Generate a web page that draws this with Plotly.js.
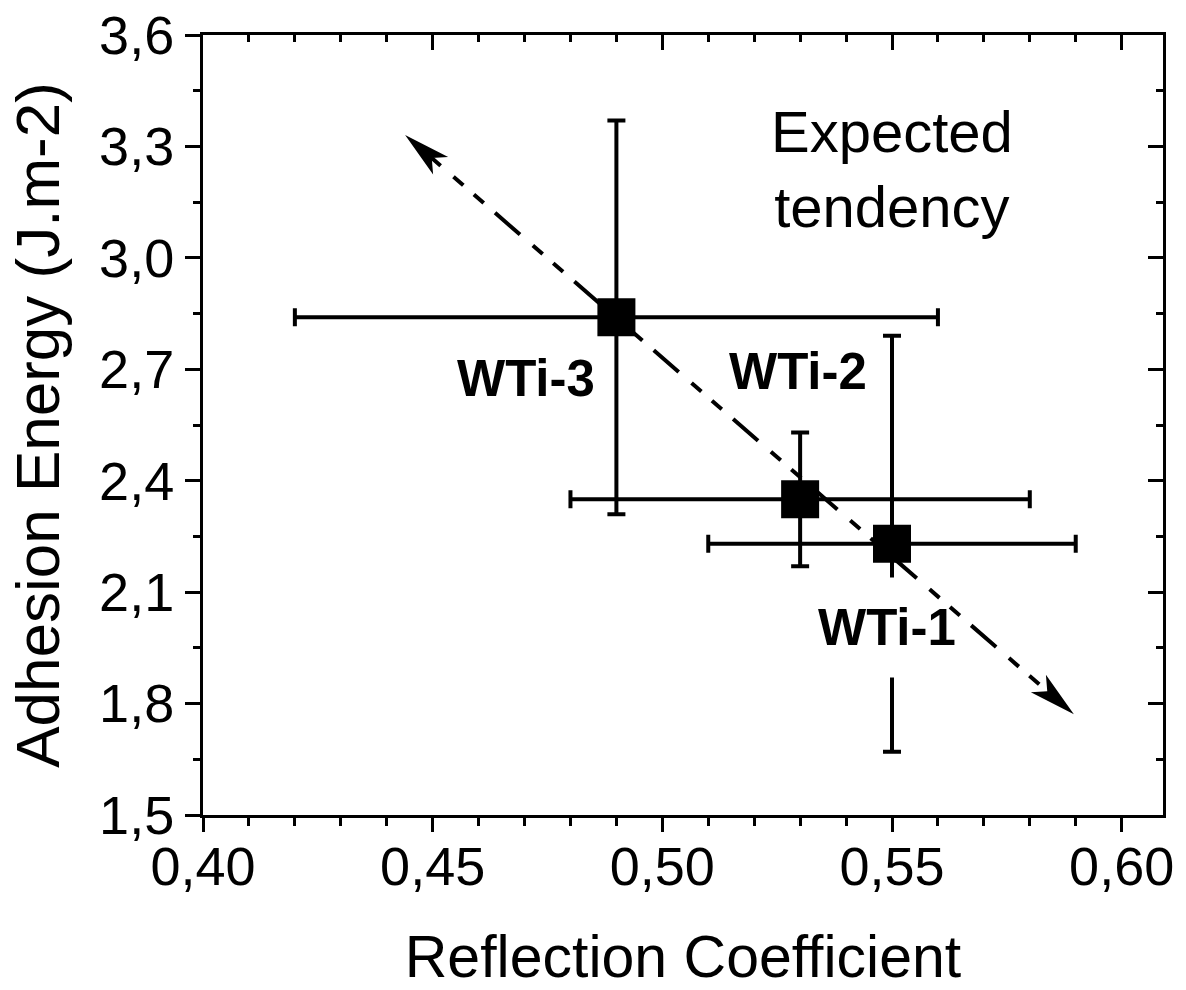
<!DOCTYPE html>
<html>
<head>
<meta charset="utf-8">
<script src="https://cdn.plot.ly/plotly-3.0.1.min.js"></script>
<style>
  html, body { margin: 0; padding: 0; background: #fff; }
  #chart { width: 1186px; height: 990px; }
</style>
</head>
<body>
<div id="chart"></div>
<script>
// ---- data ----
const sampleNames = ['WTi-1', 'WTi-2', 'WTi-3'];
const reflection = [0.55, 0.53, 0.49];
const reflectionErr = [0.04, 0.05, 0.07];
const adhesion = [2.23, 2.35, 2.84];
const adhesionErr = [0.56, 0.18, 0.53];
const labelX = [0.549, 0.5296, 0.4703];
const labelY = [2.005, 2.695, 2.674];
const trendX = [0.444, 0.5896];
const trendY = [3.331, 1.771];
const trendText = 'Expected<br>tendency';
const trendTextX = 0.550;
const trendTextY = 3.24;

// ---- layout geometry ----
const W = 1186, H = 990;
const M = {l: 203, r: 23, t: 35, b: 175};
const xRange = [0.40, 0.609];
const yRange = [1.5, 3.6];
const FONT = 'Liberation Sans, Arial, sans-serif';

const plotW = W - M.l - M.r, plotH = H - M.t - M.b;
const sx = plotW / (xRange[1] - xRange[0]);
const sy = plotH / (yRange[1] - yRange[0]);

// direction of trend arrow in pixel space (y up)
const dxp = (trendX[1] - trendX[0]) * sx;
const dyp = (trendY[1] - trendY[0]) * sy;
const len = Math.hypot(dxp, dyp);
const ux = dxp / len, uy = dyp / len;

const headL = 47, headHalf = 11.5, notch = 0.75;
function headPath(dx, dy) {
  const nx = -dy, ny = dx;
  const b1x = -headL * dx + headHalf * nx, b1y = -headL * dy + headHalf * ny;
  const b2x = -headL * dx - headHalf * nx, b2y = -headL * dy - headHalf * ny;
  const cx = -notch * headL * dx, cy = -notch * headL * dy;
  return `M0,0 L${b1x.toFixed(2)},${b1y.toFixed(2)} L${cx.toFixed(2)},${cy.toFixed(2)} L${b2x.toFixed(2)},${b2y.toFixed(2)} Z`;
}
const shrink = 14;
const lx0 = trendX[0] + shrink * ux / sx, ly0 = trendY[0] + shrink * uy / sy;
const lx1 = trendX[1] - shrink * ux / sx, ly1 = trendY[1] - shrink * uy / sy;

const data = [
  {
    type: 'scatter', mode: 'markers',
    x: reflection, y: adhesion, text: sampleNames,
    marker: {symbol: 'square', size: 38, color: '#000', line: {width: 0}},
    error_y: {type: 'data', array: adhesionErr, visible: true, thickness: 4, width: 9, color: '#000'},
    error_x: {type: 'data', array: reflectionErr, visible: true, thickness: 4, width: 9, color: '#000'},
    showlegend: false, hoverinfo: 'x+y+text'
  },
  {
    type: 'scatter', mode: 'markers',
    x: reflection, y: adhesion, xaxis: 'x2', yaxis: 'y2',
    marker: {opacity: 0}, showlegend: false, hoverinfo: 'skip'
  },
  {
    type: 'scatter', mode: 'markers',
    x: reflection, y: adhesion, xaxis: 'x3', yaxis: 'y',
    marker: {opacity: 0}, showlegend: false, hoverinfo: 'skip'
  }
];

const tickFont = {family: FONT, size: 54, color: '#000'};

const layout = {
  width: W, height: H,
  margin: M,
  paper_bgcolor: '#fff', plot_bgcolor: '#fff',
  separators: ',.',
  showlegend: false,
  xaxis: {
    range: xRange, tick0: 0.40, dtick: 0.05, tickformat: '.2f',
    showline: true, linewidth: 3, linecolor: '#000', showgrid: false, zeroline: false,
    ticks: '', tickfont: tickFont, ticklabelstandoff: 2,
    title: {text: 'Reflection Coefficient', font: {family: FONT, size: 59, color: '#000'}, standoff: 52},
    automargin: false
  },
  xaxis3: {
    overlaying: 'x', side: 'bottom', anchor: 'y', range: xRange, tick0: 0.40, dtick: 0.05,
    showline: true, linewidth: 3, linecolor: '#000', showgrid: false, zeroline: false,
    ticks: 'outside', ticklen: 14, tickwidth: 3, tickcolor: '#000', showticklabels: false,
    minor: {ticks: 'outside', dtick: 0.01, ticklen: 8, tickwidth: 3, tickcolor: '#000'}
  },
  yaxis: {
    range: yRange, tick0: 1.5, dtick: 0.3, tickformat: '.1f',
    showline: true, linewidth: 3, linecolor: '#000', showgrid: false, zeroline: false,
    ticks: 'outside', ticklen: 15, tickwidth: 3, tickcolor: '#000', tickfont: tickFont,
    minor: {ticks: 'outside', dtick: 0.15, ticklen: 7, tickwidth: 3, tickcolor: '#000'},
    title: {text: 'Adhesion Energy (J.m-2)', font: {family: FONT, size: 62, color: '#000'}, standoff: 20},
    automargin: false
  },
  xaxis2: {
    overlaying: 'x', side: 'top', anchor: 'y', range: xRange, tick0: 0.40, dtick: 0.05,
    showline: true, linewidth: 3, linecolor: '#000', showgrid: false, zeroline: false,
    ticks: 'inside', ticklen: 15, tickwidth: 3, tickcolor: '#000', showticklabels: false,
    minor: {ticks: 'inside', dtick: 0.01, ticklen: 7, tickwidth: 3, tickcolor: '#000'}
  },
  yaxis2: {
    overlaying: 'y', side: 'right', anchor: 'x', range: yRange, tick0: 1.5, dtick: 0.3,
    showline: true, linewidth: 3, linecolor: '#000', showgrid: false, zeroline: false,
    ticks: 'inside', ticklen: 15, tickwidth: 3, tickcolor: '#000', showticklabels: false,
    minor: {ticks: 'inside', dtick: 0.15, ticklen: 7, tickwidth: 3, tickcolor: '#000'}
  },
  shapes: [
    {
      type: 'rect', layer: 'above', xref: 'x', yref: 'y',
      xsizemode: 'pixel', ysizemode: 'pixel',
      xanchor: labelX[0], yanchor: labelY[0],
      x0: -65, x1: 65, y0: -50, y1: 50,
      fillcolor: '#fff', line: {width: 0}
    },
    {
      type: 'line', layer: 'above', xref: 'x', yref: 'y',
      x0: lx0, y0: ly0, x1: lx1, y1: ly1,
      line: {color: '#000', width: 4, dash: '33px,17px,13px,14px,13px,15px'}
    },
    {
      type: 'path', layer: 'above', xref: 'x', yref: 'y',
      xsizemode: 'pixel', ysizemode: 'pixel',
      xanchor: trendX[1], yanchor: trendY[1],
      path: headPath(ux, uy), fillcolor: '#000', line: {width: 0}
    },
    {
      type: 'path', layer: 'above', xref: 'x', yref: 'y',
      xsizemode: 'pixel', ysizemode: 'pixel',
      xanchor: trendX[0], yanchor: trendY[0],
      path: headPath(-ux, -uy), fillcolor: '#000', line: {width: 0}
    }
  ],
  annotations: sampleNames.map((name, i) => ({
    x: labelX[i], y: labelY[i], xref: 'x', yref: 'y',
    text: '<b>' + name + '</b>', showarrow: false,
    font: {family: FONT, size: 51, color: '#000'},
    xanchor: 'center', yanchor: 'middle'
  })).concat([{
    x: trendTextX, y: trendTextY, xref: 'x', yref: 'y',
    text: trendText, showarrow: false,
    font: {family: FONT, size: 58, color: '#000'},
    xanchor: 'center', yanchor: 'middle', align: 'center'
  }])
};

Plotly.newPlot('chart', data, layout, {displayModeBar: false, staticPlot: true});
</script>
</body>
</html>
